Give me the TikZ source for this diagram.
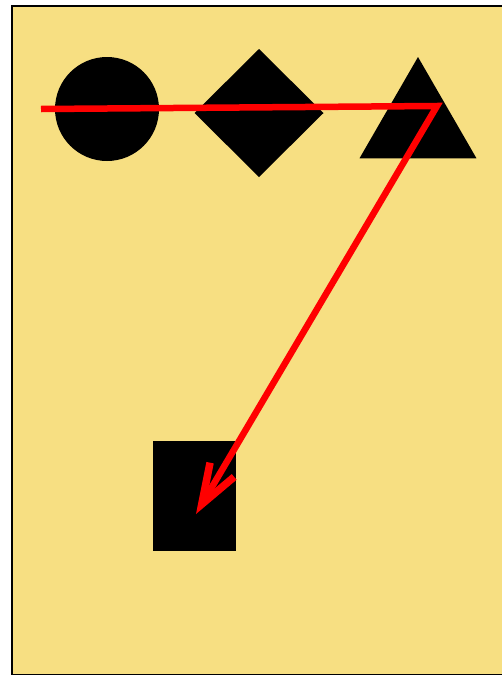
\documentclass[tikz,border=0pt]{standalone}
\usetikzlibrary{shapes.geometric,arrows.meta}
\definecolor{bgyellow}{RGB}{247,223,130}
\definecolor{pathred}{RGB}{255,0,0}
\tikzset{
  shapeblk/.style={fill=black,draw=none,inner sep=0pt,outer sep=0pt},
  redpath/.style={draw=pathred,line width=6.5pt,line join=miter,
    -{Straight Barb[length=40pt,width=28pt,line width=7.5pt]}}
}
\begin{document}
\begin{tikzpicture}[x=1pt,y=-1pt]
\useasboundingbox (0,0) rectangle (502,675);
\fill[white] (0,0) rectangle (502,675);
\node[draw=black,line width=2pt,fill=bgyellow,minimum width=500pt,minimum height=669pt,anchor=north west,inner sep=0pt] (bg) at (11,5) {};
\node[shapeblk,circle,minimum size=104pt] (c) at (107,109) {};
\node[shapeblk,diamond,minimum width=129pt,minimum height=128pt] (d) at (259,113) {};
\node[shapeblk,regular polygon,regular polygon sides=3,minimum size=135pt] (t) at (418,124.5) {};
\node[shapeblk,rectangle,minimum width=83pt,minimum height=110pt] (r) at (194.5,496) {};
\coordinate (start) at (41,109);
\coordinate (bend) at (437,106);
\coordinate (tip) at (196,514);
\draw[redpath] (start) -- (bend) -- (tip);
\end{tikzpicture}
\end{document}
